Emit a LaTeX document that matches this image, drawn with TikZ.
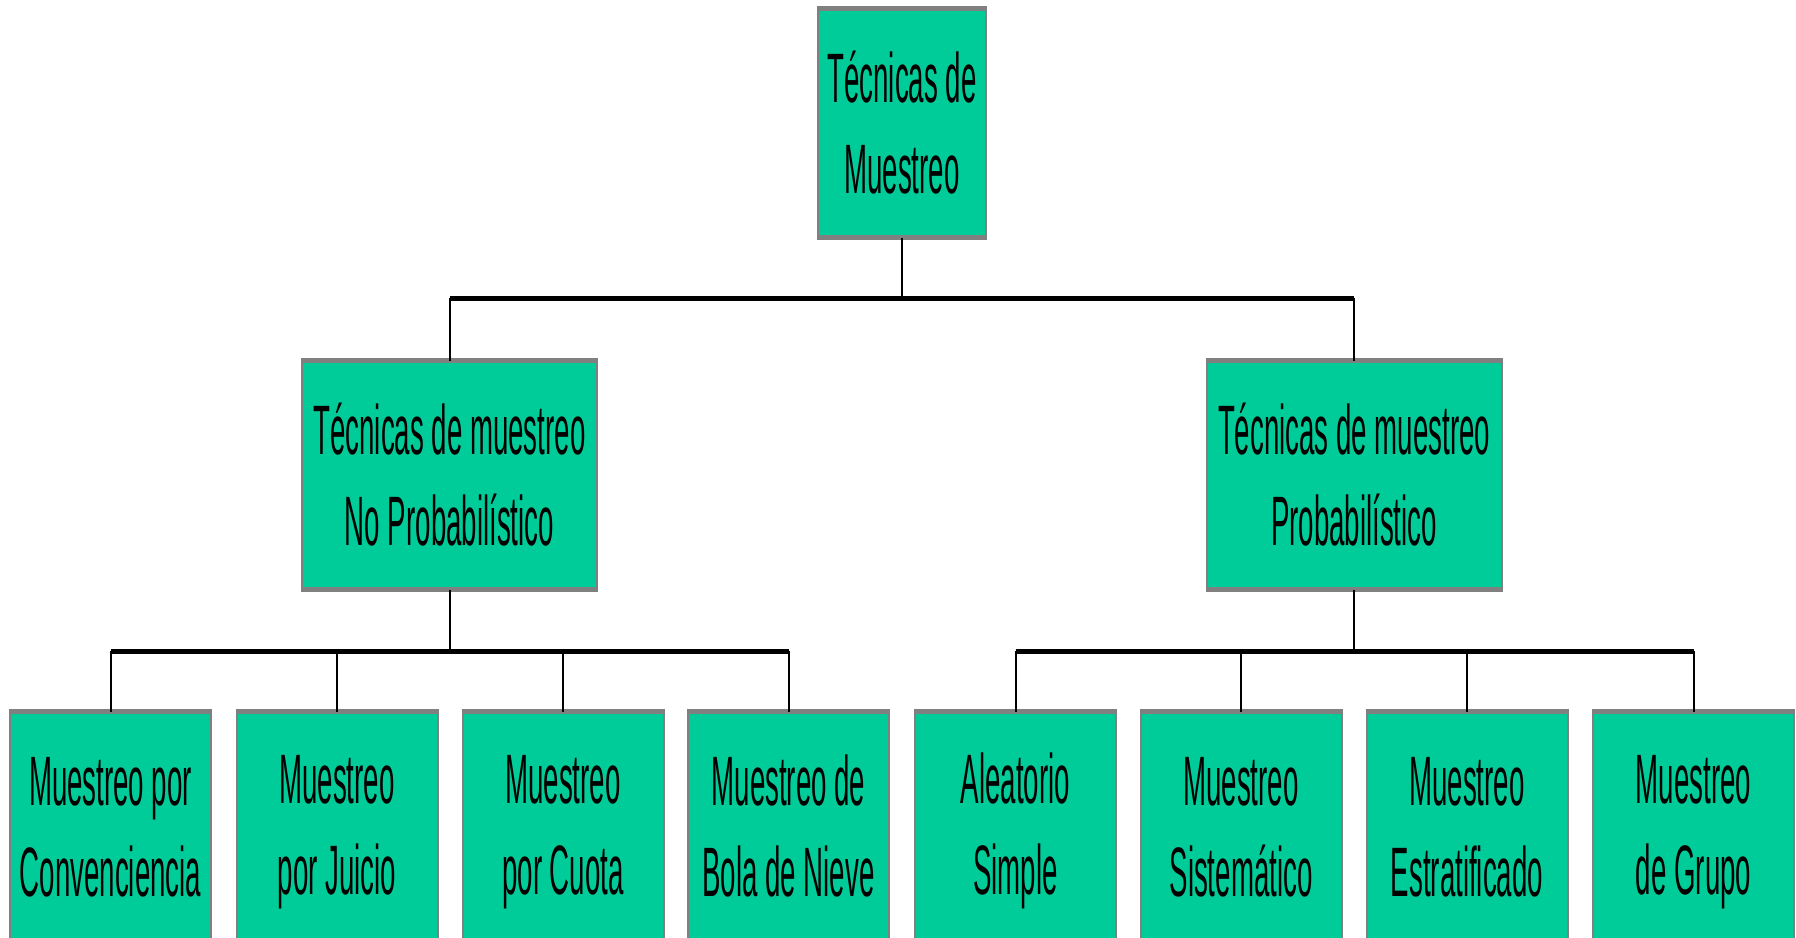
\documentclass[tikz,border=0pt]{standalone}
\usepackage{fontspec}
\setmainfont[FakeStretch=0.395]{Liberation Sans}
\definecolor{boxgreen}{HTML}{00CC99}
\definecolor{boxborder}{HTML}{808080}
\newcommand\vs{\rule[-12pt]{0pt}{74pt}}
\tikzset{
  box/.style={rectangle, fill=boxgreen, draw=boxborder, line width=2pt, inner sep=0pt,
    minimum height=229pt, align=center, font=\fontsize{70}{91}\selectfont},
  topbox/.style={box, minimum width=168pt},
  midbox/.style={box, minimum width=295pt},
  leafbox/.style={box, minimum width=201pt},
  hline/.style={draw=black, line width=5pt},
  vline/.style={draw=black, line width=2pt},
  edge/.style={draw=boxborder, line width=5pt}
}
\begin{document}
\begin{tikzpicture}[x=1pt,y=-1pt]
\useasboundingbox (0,0) rectangle (1796,937);
\node[topbox] (top) at (902,122.5) {\vs Técnicas de\\\vs Muestreo};
\node[midbox] (nonp) at (449.5,474.5) {\vs Técnicas de muestreo\\\vs No Probabilístico};
\node[midbox] (prob) at (1354,474.5) {\vs Técnicas de muestreo\\\vs Probabilístico};
\node[leafbox] (l1) at (110.5,825.5) {\vs Muestreo por\\\vs Convenciencia};
\node[leafbox] (l2) at (337,825.5) {\vs Muestreo\\\vs por Juicio};
\node[leafbox] (l3) at (563,825.5) {\vs Muestreo\\\vs por Cuota};
\node[leafbox] (l4) at (788.5,825.5) {\vs Muestreo de\\\vs Bola de Nieve};
\node[leafbox] (r1) at (1015.5,825.5) {\vs Aleatorio\\\vs Simple};
\node[leafbox] (r2) at (1241,825.5) {\vs Muestreo\\\vs Sistemático};
\node[leafbox] (r3) at (1467,825.5) {\vs Muestreo\\\vs Estratificado};
\node[leafbox] (r4) at (1693.5,825.5) {\vs Muestreo\\\vs de Grupo};
\foreach \n in {top,nonp,prob,l1,l2,l3,l4,r1,r2,r3,r4}{
  \draw[edge] ([yshift=-1.5pt]\n.north west) -- ([yshift=-1.5pt]\n.north east);
  \draw[edge] ([yshift=1pt]\n.south west) -- ([yshift=1pt]\n.south east);
}
\coordinate (bus1) at (902,298);
\coordinate (bus2) at (449.5,651);
\coordinate (bus3) at (1354,651);
% level 1
\draw[vline] (top.south) -- (bus1);
\draw[hline] (nonp.north |- bus1) -- (prob.north |- bus1);
\draw[vline] (nonp.north |- bus1) -- ([yshift=-2pt]nonp.north);
\draw[vline] (prob.north |- bus1) -- ([yshift=-2pt]prob.north);
% level 2 left
\draw[vline] (nonp.south) -- (bus2);
\draw[hline] (l1.north |- bus2) -- (l4.north |- bus2);
\foreach \n in {l1,l2,l3,l4}{\draw[vline] (\n.north |- bus2) -- ([yshift=-2pt]\n.north);}
% level 2 right
\draw[vline] (prob.south) -- (bus3);
\draw[hline] (r1.north |- bus3) -- (r4.north |- bus3);
\foreach \n in {r1,r2,r3,r4}{\draw[vline] (\n.north |- bus3) -- ([yshift=-2pt]\n.north);}
\end{tikzpicture}
\end{document}
